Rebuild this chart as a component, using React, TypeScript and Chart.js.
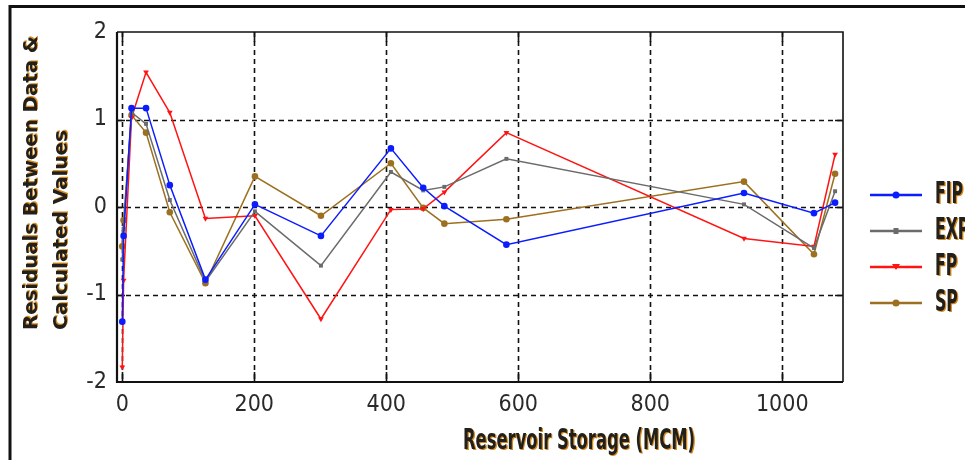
import React, { useEffect, useRef } from 'react';
import { Chart, registerables } from 'chart.js';

Chart.register(...registerables);

// ---- data ----
const storage = [0, 2, 14, 36, 72, 126, 201, 301, 407, 456, 488, 582, 942, 1048, 1080];
const fipResiduals = [-1.31, -0.33, 1.13, 1.13, 0.25, -0.83, 0.03, -0.33, 0.67, 0.22, 0.01, -0.43, 0.16, -0.07, 0.05];
const expResiduals = [-0.6, -0.25, 1.08, 0.95, 0.08, -0.85, -0.05, -0.67, 0.4, 0.19, 0.23, 0.55, 0.03, -0.47, 0.18];
const fpResiduals = [-1.83, -0.84, 1.02, 1.54, 1.08, -0.13, -0.1, -1.28, -0.03, -0.02, 0.17, 0.85, -0.36, -0.45, 0.6];
const spResiduals = [-0.45, -0.15, 1.05, 0.85, -0.06, -0.87, 0.35, -0.1, 0.5, -0.01, -0.19, -0.14, 0.29, -0.54, 0.38];
const seriesNames = ['FIP', 'EXP', 'FP', 'SP'];
const xTickValues = [0, 200, 400, 600, 800, 1000];
const yTickValues = [-2, -1, 0, 1, 2];
const xTitle = 'Reservoir Storage (MCM)';
const yTitleLines = ['Residuals Between Data &', 'Calculated Values'];

const COND = '"DejaVu Sans Condensed", "DejaVu Sans", sans-serif';
const NARROW = '"Liberation Sans Narrow", "DejaVu Sans Condensed", sans-serif';
const TITLE_COLOR = '#22201c';
const TITLE_SHADOW = '#d58a1e';

const colors = ['#0b1cff', '#6b6b6b', '#ff1414', '#9c7020'];
const markers = ['circle', 'rect', 'triangleDown', 'circle'];

function drawStretched(
  ctx: CanvasRenderingContext2D,
  text: string,
  x: number,
  y: number,
  px: number,
  targetWidth: number | null,
  scaleX: number,
  align: CanvasTextAlign,
  rotate: number
) {
  ctx.save();
  ctx.font = `bold ${px}px ${COND}`;
  const w = ctx.measureText(text).width;
  const sx = targetWidth ? targetWidth / w : scaleX;
  ctx.translate(x, y);
  ctx.rotate(rotate);
  ctx.scale(sx, 1);
  ctx.textAlign = align;
  ctx.textBaseline = 'middle';
  ctx.fillStyle = TITLE_SHADOW;
  ctx.fillText(text, 1.2 / sx, 1);
  ctx.fillStyle = TITLE_COLOR;
  ctx.fillText(text, 0, 0);
  ctx.restore();
}

function drawMarker(ctx: CanvasRenderingContext2D, kind: string, x: number, y: number, color: string) {
  ctx.save();
  ctx.fillStyle = color;
  ctx.beginPath();
  if (kind === 'circle') {
    ctx.arc(x, y, 3.5, 0, Math.PI * 2);
  } else if (kind === 'rect') {
    ctx.rect(x - 2.5, y - 3, 5, 6);
  } else {
    ctx.moveTo(x - 4, y - 3);
    ctx.lineTo(x + 4, y - 3);
    ctx.lineTo(x, y + 3);
    ctx.closePath();
  }
  ctx.fill();
  ctx.restore();
}

const decorPlugin = {
  id: 'decor',
  beforeDatasetsDraw(chart: any) {
    const { ctx, chartArea: a, scales } = chart;
    const xs = scales.x;
    const ys = scales.y;
    ctx.save();
    ctx.strokeStyle = '#111';
    ctx.lineWidth = 1.6;
    // dashed grid
    ctx.setLineDash([5, 4]);
    xTickValues.forEach((v) => {
      const px = Math.round(xs.getPixelForValue(v)) + 0.5;
      ctx.beginPath();
      ctx.moveTo(px, a.top);
      ctx.lineTo(px, a.bottom);
      ctx.stroke();
    });
    yTickValues.slice(1, -1).forEach((v) => {
      const py = Math.round(ys.getPixelForValue(v)) + 0.5;
      ctx.beginPath();
      ctx.moveTo(a.left, py);
      ctx.lineTo(a.right, py);
      ctx.stroke();
    });
    // solid tick stubs
    ctx.setLineDash([]);
    xTickValues.forEach((v) => {
      const px = Math.round(xs.getPixelForValue(v)) + 0.5;
      ctx.beginPath();
      ctx.moveTo(px, a.bottom);
      ctx.lineTo(px, a.bottom - 10);
      ctx.moveTo(px, a.top);
      ctx.lineTo(px, a.top + 10);
      ctx.stroke();
    });
    yTickValues.slice(1, -1).forEach((v) => {
      const py = Math.round(ys.getPixelForValue(v)) + 0.5;
      ctx.beginPath();
      ctx.moveTo(a.left, py);
      ctx.lineTo(a.left + 8, py);
      ctx.moveTo(a.right, py);
      ctx.lineTo(a.right - 8, py);
      ctx.stroke();
    });
    ctx.restore();
  },
  afterDraw(chart: any) {
    const { ctx, chartArea: a, data } = chart;
    ctx.save();
    // plot border
    ctx.strokeStyle = '#111';
    ctx.lineWidth = 2.2;
    ctx.beginPath();
    ctx.moveTo(a.left, a.top);
    ctx.lineTo(a.left, a.bottom);
    ctx.lineTo(a.right, a.bottom);
    ctx.stroke();
    ctx.lineWidth = 1.6;
    ctx.beginPath();
    ctx.moveTo(a.left, a.top);
    ctx.lineTo(a.right, a.top);
    ctx.lineTo(a.right, a.bottom);
    ctx.stroke();
    // outer frame (top and left)
    ctx.lineWidth = 3;
    ctx.beginPath();
    ctx.moveTo(10, 460);
    ctx.lineTo(10, 6.5);
    ctx.lineTo(965, 6.5);
    ctx.stroke();
    ctx.restore();

    // axis titles
    drawStretched(ctx, xTitle, 579, 441, 29, 232, 1, 'center', 0);
    drawStretched(ctx, yTitleLines[0], 32, 330, 20, 294, 1, 'left', -Math.PI / 2);
    drawStretched(ctx, yTitleLines[1], 62, 330, 20, 200, 1, 'left', -Math.PI / 2);

    // legend
    data.datasets.forEach((ds: any, i: number) => {
      const y = 195 + i * 36;
      ctx.save();
      ctx.strokeStyle = ds.borderColor;
      ctx.lineWidth = 2.5;
      ctx.beginPath();
      ctx.moveTo(870, y);
      ctx.lineTo(922, y);
      ctx.stroke();
      ctx.restore();
      drawMarker(ctx, markers[i], 896, y, ds.borderColor);
      drawStretched(ctx, ds.label, 935, y, 30, null, 0.58, 'left', 0);
    });
  },
};

export default function App() {
  const canvasRef = useRef<HTMLCanvasElement | null>(null);

  useEffect(() => {
    document.body.style.margin = '0';
    const canvas = canvasRef.current;
    if (!canvas) return;
    const series = [fipResiduals, expResiduals, fpResiduals, spResiduals];
    const chart = new Chart(canvas, {
      type: 'line',
      data: {
        datasets: series.map((vals, i) => ({
          label: seriesNames[i],
          data: storage.map((x, j) => ({ x, y: vals[j] })),
          borderColor: colors[i],
          backgroundColor: colors[i],
          borderWidth: 1.5,
          pointRadius: markers[i] === 'rect' ? 2.8 : 3.3,
          pointStyle: markers[i] === 'triangleDown' ? 'triangle' : markers[i],
          rotation: markers[i] === 'triangleDown' ? 180 : 0,
          pointBorderWidth: 0,
          tension: 0,
          fill: false,
        })),
      },
      options: {
        animation: false,
        responsive: false,
        maintainAspectRatio: false,
        layout: { padding: { left: 0, right: 122, top: 32, bottom: 0 } },
        plugins: { legend: { display: false }, tooltip: { enabled: false } },
        scales: {
          x: {
            type: 'linear',
            min: -8,
            max: 1092,
            afterFit: (s: any) => {
              s.height = 78;
            },
            afterBuildTicks: (s: any) => {
              s.ticks = xTickValues.map((v) => ({ value: v }));
            },
            grid: { display: false, drawTicks: false },
            border: { display: false },
            ticks: {
              padding: 9,
              autoSkip: false,
              maxRotation: 0,
              color: '#2a2a2a',
              font: { family: NARROW, size: 23 },
              callback: (v: any) => String(v),
            },
          },
          y: {
            type: 'linear',
            min: -2,
            max: 2,
            afterFit: (s: any) => {
              s.width = 117;
            },
            afterBuildTicks: (s: any) => {
              s.ticks = yTickValues.map((v) => ({ value: v }));
            },
            grid: { display: false, drawTicks: false },
            border: { display: false },
            ticks: {
              padding: 10,
              autoSkip: false,
              color: '#2a2a2a',
              font: { family: NARROW, size: 23 },
              callback: (v: any) => String(v),
            },
          },
        },
      },
      plugins: [decorPlugin],
    });
    return () => chart.destroy();
  }, []);

  return (
    <div style={{ width: 965, height: 460, position: 'relative', background: '#fff' }}>
      <canvas ref={canvasRef} width={965} height={460} style={{ display: 'block' }} />
    </div>
  );
}
